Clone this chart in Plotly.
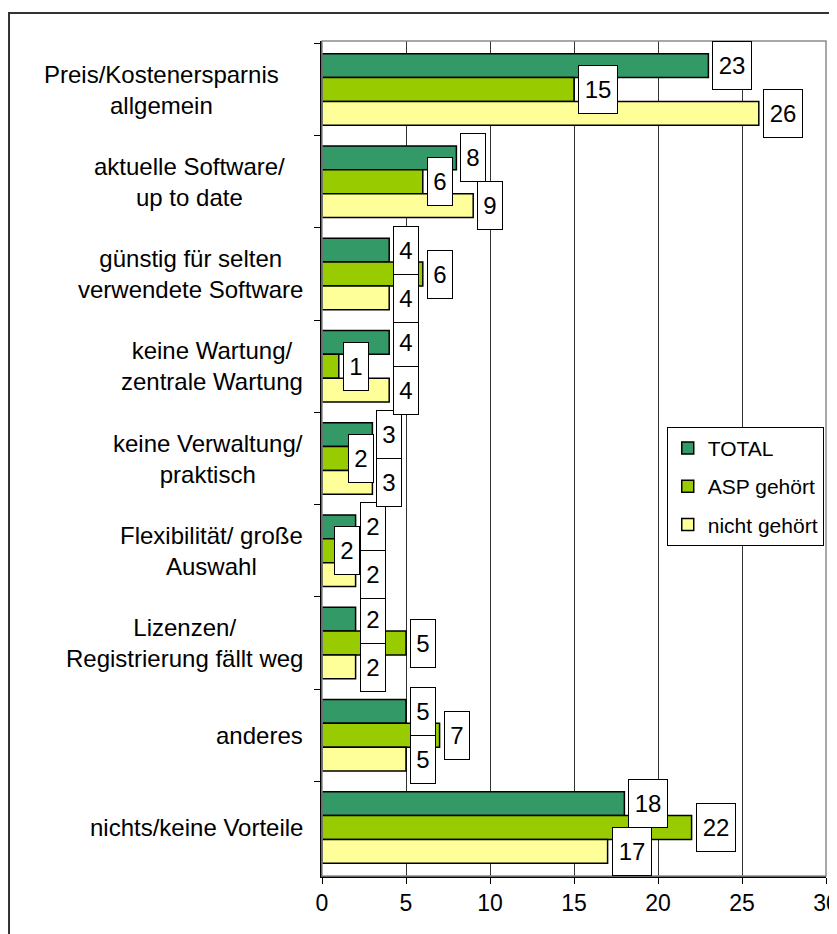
import plotly.graph_objects as go

CATEGORIES = [
    "Preis/Kostenersparnis<br>allgemein",
    "aktuelle Software/<br>up to date",
    "günstig für selten<br>verwendete Software",
    "keine Wartung/<br>zentrale Wartung",
    "keine Verwaltung/<br>praktisch",
    "Flexibilität/ große<br>Auswahl",
    "Lizenzen/<br>Registrierung fällt weg",
    "anderes",
    "nichts/keine Vorteile",
]
TOTAL = [23, 8, 4, 4, 3, 2, 2, 5, 18]
ASP_GEHOERT = [15, 6, 6, 1, 2, 2, 5, 7, 22]
NICHT_GEHOERT = [26, 9, 4, 4, 3, 2, 2, 5, 17]

SERIES = [
    ("TOTAL", TOTAL, "#339966"),
    ("ASP gehört", ASP_GEHOERT, "#99CC00"),
    ("nicht gehört", NICHT_GEHOERT, "#FFFF99"),
]

FONT = "Arial, Liberation Sans, sans-serif"

# hand-moved labels in the original (series index, category index) -> x shift in px
LABEL_NUDGE = {(1, 4): -8, (1, 5): -22}
CAT_NUDGE = {0: -24, 1: -18}
BAR_SHIFT = [24, 0, -24]

fig = go.Figure()
for name, vals, color in SERIES:
    fig.add_trace(
        go.Bar(
            y=CATEGORIES,
            x=vals,
            name=name,
            orientation="h",
            legendgroup=name,
            marker=dict(color=color, line=dict(color="black", width=1.5)),
        )
    )

annotations = []
for si, (name, vals, color) in enumerate(SERIES):
    for ci, (cat, v) in enumerate(zip(CATEGORIES, vals)):
        annotations.append(
            dict(
                x=v,
                y=cat,
                xref="x",
                yref="y",
                text=str(v),
                showarrow=False,
                xanchor="left",
                yanchor="middle",
                xshift=LABEL_NUDGE.get((si, ci), 4),
                yshift=BAR_SHIFT[si],
                width=24 if v < 10 else 38,
                height=47,
                bgcolor="white",
                bordercolor="black",
                borderwidth=1,
                borderpad=0,
                font=dict(family=FONT, size=24, color="black"),
            )
        )

for ci, cat in enumerate(CATEGORIES):
    annotations.append(
        dict(
            x=0,
            y=cat,
            xref="paper",
            yref="y",
            text=cat,
            showarrow=False,
            xanchor="right",
            yanchor="middle",
            xshift=-17 + CAT_NUDGE.get(ci, 0),
            align="center",
            font=dict(family=FONT, size=24, color="black"),
        )
    )

fig.update_layout(
    width=829,
    height=926,
    barmode="group",
    bargap=0.224,
    bargroupgap=0,
    paper_bgcolor="white",
    plot_bgcolor="white",
    font=dict(family=FONT, size=22, color="black"),
    margin=dict(l=314, r=11, t=33, b=58),
    showlegend=True,
    legend=dict(
        x=0.684,
        y=0.538,
        xanchor="left",
        yanchor="top",
        bgcolor="white",
        bordercolor="black",
        borderwidth=1,
        font=dict(family=FONT, size=21, color="black"),
        tracegroupgap=8,
        traceorder="grouped",
        itemwidth=30,
    ),
    annotations=annotations,
    shapes=[
        dict(type="rect", xref="paper", yref="paper", x0=0, x1=1, y0=0, y1=1,
             line=dict(color="#8c8c8c", width=1.5), layer="above"),
        dict(type="rect", xref="paper", yref="paper", x0=-0.621, x1=1.2,
             y0=-0.3, y1=1.0335, line=dict(color="#333333", width=2)),
    ],
)
fig.update_xaxes(
    range=[0, 30],
    dtick=5,
    showgrid=True,
    gridcolor="#333333",
    gridwidth=1,
    showline=True,
    linecolor="black",
    linewidth=1.5,
    ticks="outside",
    ticklen=6,
    tickcolor="black",
    tickfont=dict(family=FONT, size=23, color="black"),
    ticklabeloverflow="allow",
    automargin=False,
    zeroline=False,
)
fig.update_yaxes(
    type="category",
    autorange="reversed",
    showticklabels=False,
    ticks="outside",
    tickson="boundaries",
    ticklen=6,
    tickcolor="black",
    showline=True,
    linecolor="black",
    linewidth=1.5,
    showgrid=False,
    automargin=False,
    zeroline=False,
)

fig.write_html("out.html")
